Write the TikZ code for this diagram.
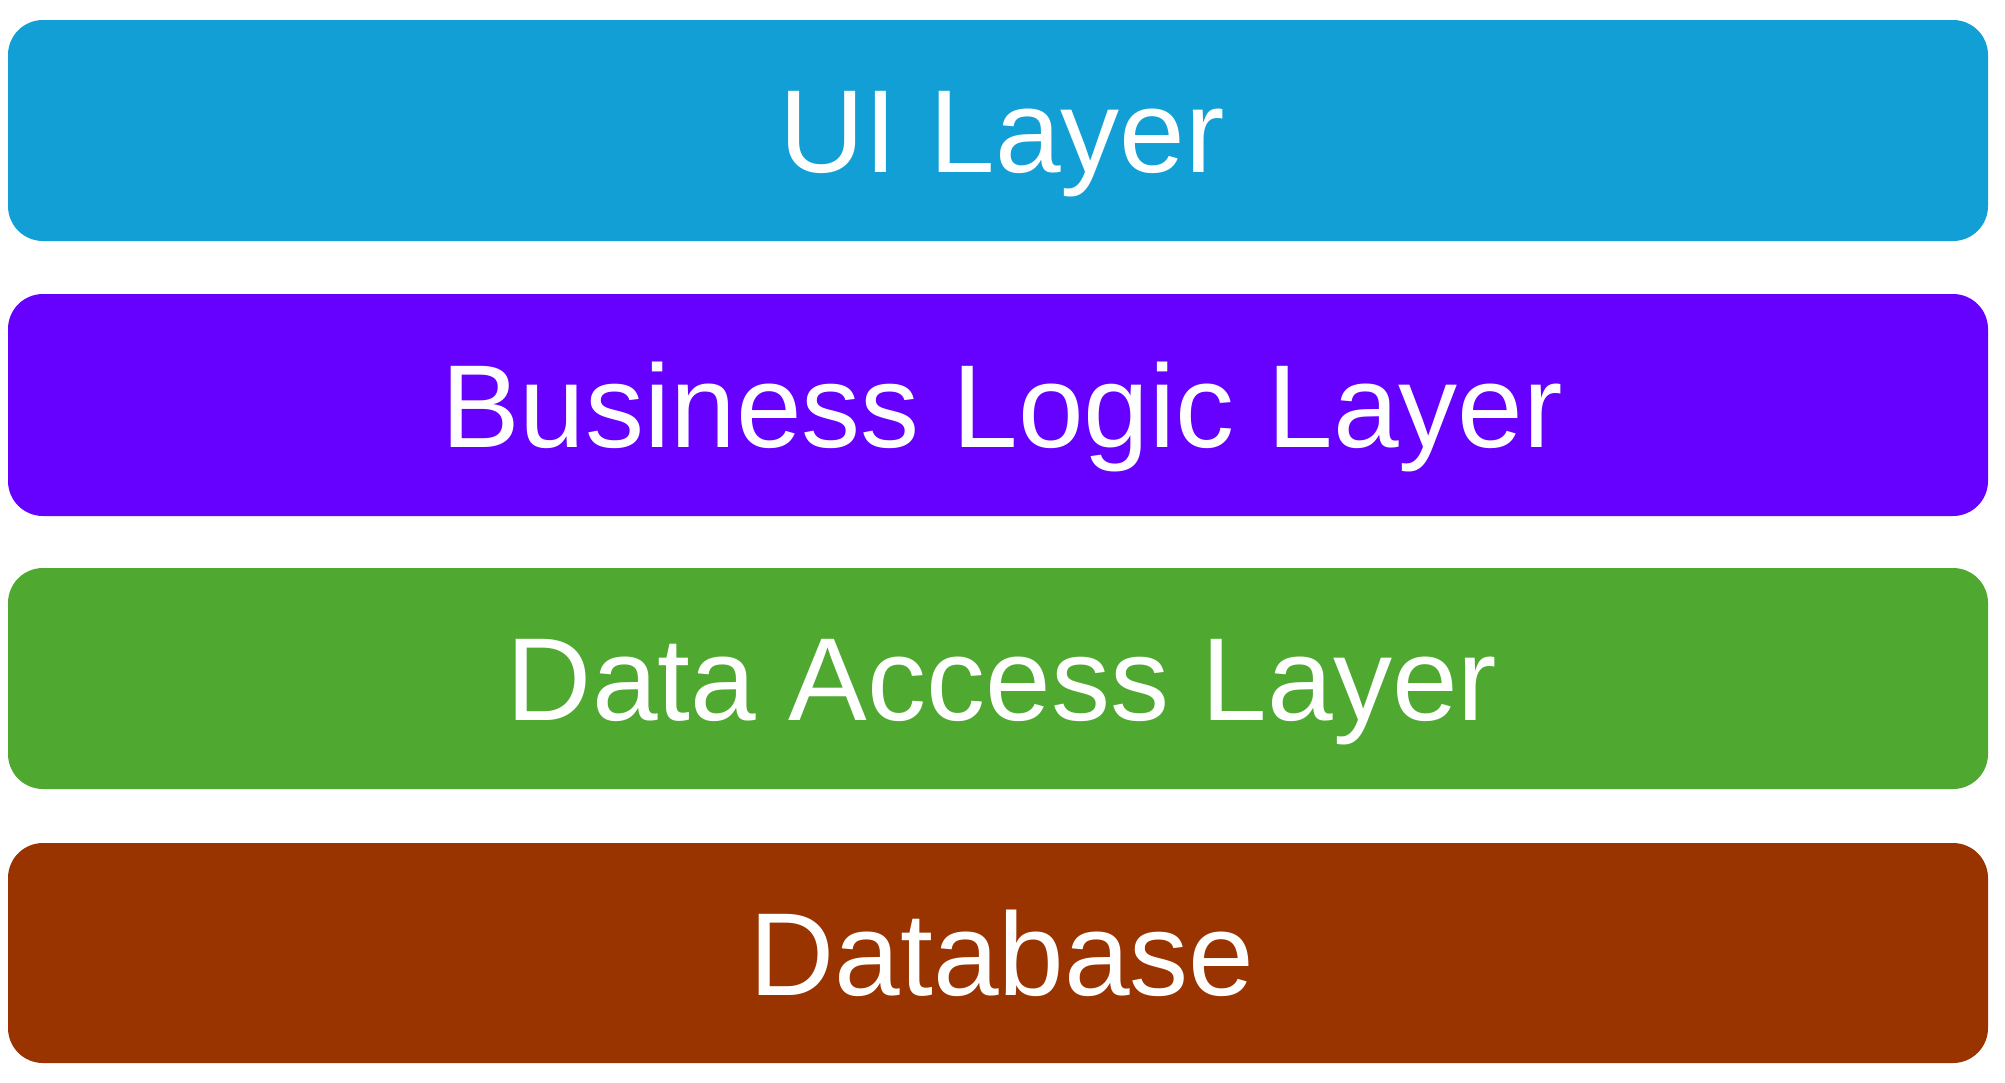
\documentclass[tikz,border=0pt]{standalone}
\usepackage{fontspec}
\setmainfont{Liberation Sans}
\definecolor{uiblue}{HTML}{129FD6}
\definecolor{blpurple}{HTML}{6600FF}
\definecolor{dagreen}{HTML}{4FA82F}
\definecolor{dbbrown}{HTML}{993300}
\tikzset{
  layerbox/.style={rounded corners=35pt, draw=none},
  layertext/.style={text=white, anchor=base, inner sep=0pt, font=\fontsize{118}{130}\selectfont}
}
\begin{document}
\begin{tikzpicture}[x=1pt,y=-1pt]
\useasboundingbox[fill=white] (0,0) rectangle (2005,1082);
\fill[layerbox, fill=uiblue] (8,20) rectangle (1988,241);
\fill[layerbox, fill=blpurple] (8,294) rectangle (1988,516);
\fill[layerbox, fill=dagreen] (8,568) rectangle (1988,789);
\fill[layerbox, fill=dbbrown] (8,843) rectangle (1988,1063);
\node[layertext] (ui) at (1002,172) {UI Layer};
\node[layertext] (bl) at (1002,447) {Business Logic Layer};
\node[layertext] (da) at (1002,720) {Data Access Layer};
\node[layertext] (db) at (1002,995) {Database};
\end{tikzpicture}
\end{document}
